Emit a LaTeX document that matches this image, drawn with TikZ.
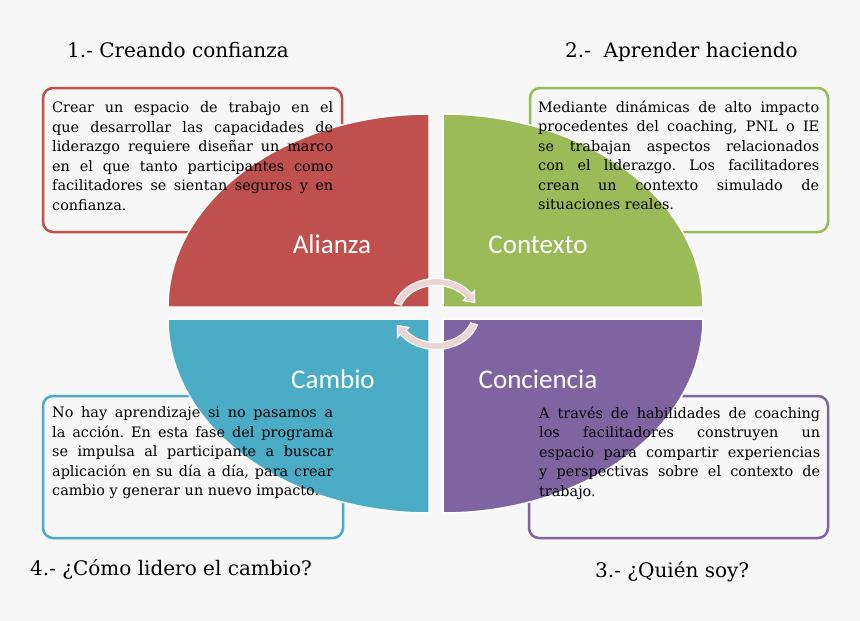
\documentclass[tikz,border=0pt]{standalone}
\usepackage{fontspec}
\setmainfont{DejaVu Serif}
\newfontfamily\labelfont{Carlito}
\definecolor{bg}{HTML}{F7F7F7}
\definecolor{qred}{HTML}{C0504D}
\definecolor{qgreen}{HTML}{9BBB59}
\definecolor{qblue}{HTML}{4BACC6}
\definecolor{qpurple}{HTML}{8064A2}
\definecolor{arcpink}{HTML}{EBD4D4}
\newcommand{\jl}[1]{\makebox[281pt][s]{#1}\\}
\frenchspacing
\begin{document}
\begin{tikzpicture}[x=1pt,y=-1pt,
  box/.style={rounded corners=10pt, line width=2.5pt},
  quad/.style={draw=white, line width=1.5pt},
  body/.style={anchor=north west, inner sep=0pt, align=left, font=\frenchspacing\fontsize{14.4}{19.5}\selectfont},
  title/.style={anchor=base west, inner sep=0pt, font=\fontsize{20}{24}\selectfont},
  qlabel/.style={anchor=base, inner sep=0pt, text=white, font=\labelfont\fontsize{27}{30}\selectfont},
  circarrow/.style={fill=arcpink, draw=white, line width=1.2pt, line join=miter}]
\fill[bg] (0,0) rectangle (860,621);
\useasboundingbox (0,0) rectangle (860,621);

% text boxes (behind the quadrants)
\draw[box, draw=qred]    (43,88)  rectangle (342,232);
\draw[box, draw=qgreen]  (530,88) rectangle (828,232);
\draw[box, draw=qblue]   (43,396) rectangle (343,538);
\draw[box, draw=qpurple] (529,396) rectangle (828,538);

% quadrants
\filldraw[quad, fill=qred]    (429,307) -- (168,307) arc[start angle=180, end angle=270, x radius=261, y radius=193] -- cycle;
\filldraw[quad, fill=qgreen]  (443,307) -- (443,114) arc[start angle=270, end angle=360, x radius=260, y radius=193] -- cycle;
\filldraw[quad, fill=qblue]   (429,319) -- (429,513) arc[start angle=90, end angle=180, x radius=261, y radius=194] -- cycle;
\filldraw[quad, fill=qpurple] (443,319) -- (703,319) arc[start angle=0, end angle=90, x radius=260, y radius=194] -- cycle;

% circular arrows
\filldraw[circarrow] (394.63,303.03) arc[start angle=-162, end angle=-35, x radius=43.5, y radius=35.5]
  -- (474.41,290.70) -- (474.70,302.41) -- (463.13,300.58) -- (465.90,297.65)
  arc[start angle=-35, end angle=-162, x radius=36.5, y radius=28.5] -- cycle;
\begin{scope}[rotate around={180:(436,314)}]
\filldraw[circarrow] (394.63,303.03) arc[start angle=-162, end angle=-35, x radius=43.5, y radius=35.5]
  -- (474.41,290.70) -- (474.70,302.41) -- (463.13,300.58) -- (465.90,297.65)
  arc[start angle=-35, end angle=-162, x radius=36.5, y radius=28.5] -- cycle;
\end{scope}

% quadrant labels
\node[qlabel] (lal) at (332,253) {Alianza};
\node[qlabel] (lco) at (538,253) {Contexto};
\node[qlabel] (lca) at (333,388) {Cambio};
\node[qlabel] (lcn) at (538,388) {Conciencia};

% titles
\node[title] (ti1) at (67,57) {1.- Creando confianza};
\node[title] (ti2) at (565,57) {2.-\ \ Aprender haciendo};
\node[title] (ti4) at (30,575) {4.- ¿Cómo lidero el cambio?};
\node[title] (ti3) at (595,577) {3.- ¿Quién soy?};

% body texts
\node[body] (t1) at (52,101.5) {\jl{Crear un espacio de trabajo en el}\jl{que desarrollar las capacidades de}\jl{liderazgo requiere diseñar un marco}\jl{en el que tanto participantes como}\jl{facilitadores se sientan seguros y en}confianza.};
\node[body] (t2) at (538,100.5) {\jl{Mediante dinámicas de alto impacto}\jl{procedentes del coaching, PNL o IE}\jl{se trabajan aspectos relacionados}\jl{con el liderazgo. Los facilitadores}\jl{crean un contexto simulado de}situaciones reales.};
\node[body] (t3) at (52,406.5) {\jl{No hay aprendizaje si no pasamos a}\jl{la acción. En esta fase del programa}\jl{se impulsa al participante a buscar}\jl{aplicación en su día a día, para crear}cambio y generar un nuevo impacto.};
\node[body] (t4) at (539,406.5) {\jl{A través de habilidades de coaching}\jl{los facilitadores construyen un}\jl{espacio para compartir experiencias}\jl{y perspectivas sobre el contexto de}trabajo.};
\end{tikzpicture}
\end{document}
